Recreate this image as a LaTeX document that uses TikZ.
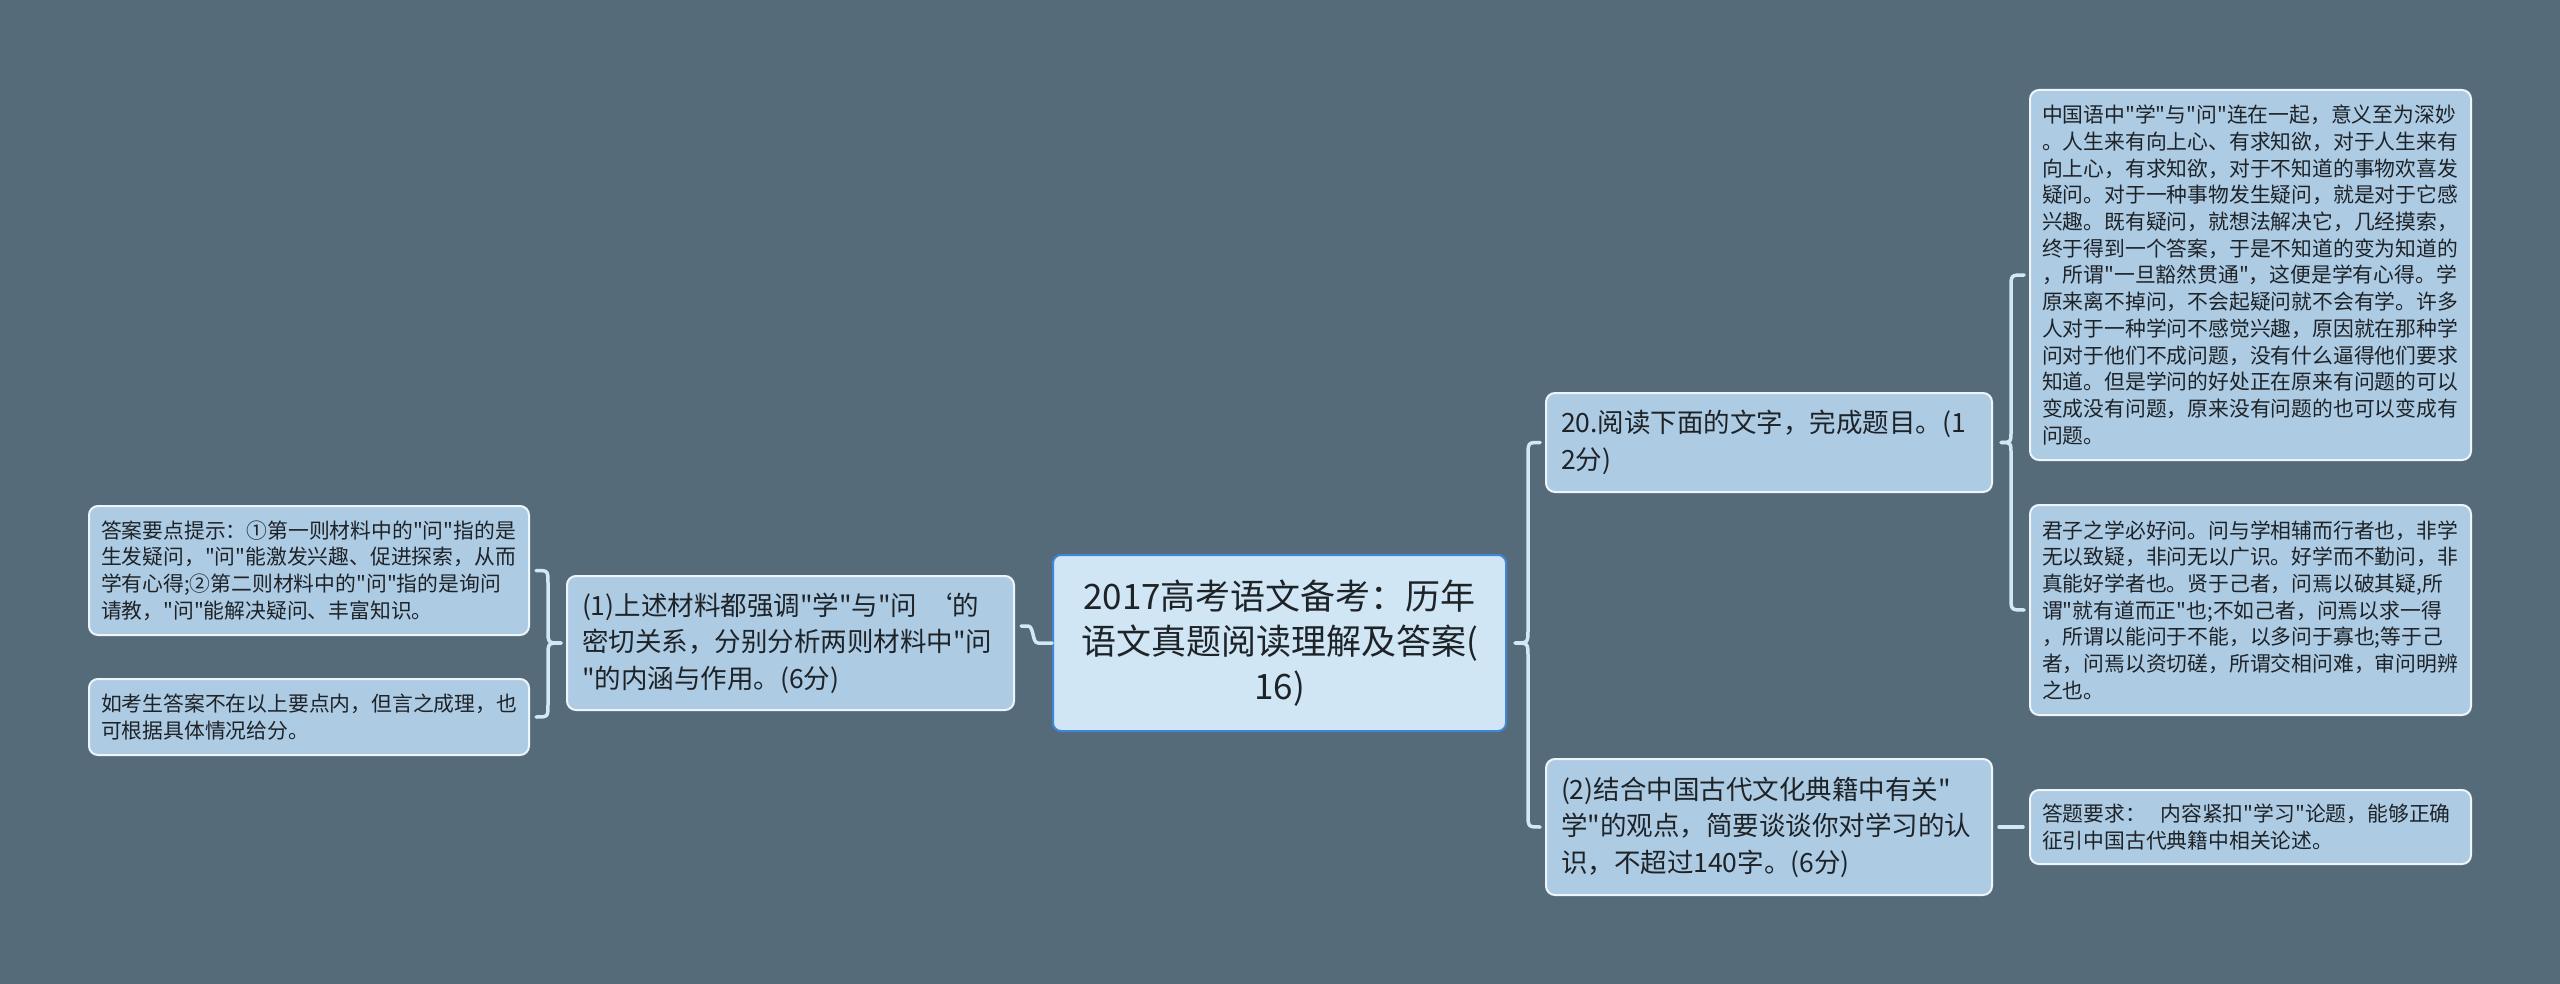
\documentclass[tikz,border=0pt]{standalone}
\usepackage{fontspec}
\newfontfamily\cjkfont{Noto Sans CJK SC}
\definecolor{bg}{HTML}{566B7A}
\definecolor{boxfill}{HTML}{ADCBE3}
\definecolor{boxline}{HTML}{EEF5FA}
\definecolor{rootfill}{HTML}{D0E6F4}
\definecolor{rootline}{HTML}{3F86D6}
\definecolor{linec}{HTML}{D3E8F5}
\definecolor{txt}{HTML}{1E2328}
\begin{document}
\begin{tikzpicture}[x=1pt,y=-1pt,
 conn/.style={draw=linec, line width=3.5pt, line cap=round, line join=round},
 box/.style={draw=boxline, line width=2pt, fill=boxfill, rounded corners=9pt, text=txt, align=left, inner ysep=0pt, anchor=center},
 big/.style={box, font=\cjkfont\fontsize{26.5}{36.5}\selectfont, inner xsep=15pt},
 small/.style={box, font=\cjkfont\fontsize{20.8}{26.7}\selectfont, inner xsep=12pt},
 rootbox/.style={draw=rootline, line width=2pt, fill=rootfill, rounded corners=8pt, text=txt, align=center, font=\cjkfont\fontsize{35}{45}\selectfont, inner sep=0pt, anchor=center}]
\fill[bg] (0,0) rectangle (2560,984);
\useasboundingbox (0,0) rectangle (2560,984);

\node[rootbox, minimum width=453pt, minimum height=176pt, text width=430pt] (root) at (1279.5,643)
 {2017高考语文备考：历年\\语文真题阅读理解及答案(\\16)};

\node[big, minimum width=447pt, minimum height=134pt, text width=417pt] (n1) at (790.5,643)
 {(1)上述材料都强调"学"与"问~‘的\\密切关系，分别分析两则材料中"问\\"的内涵与作用。(6分)};

\node[big, minimum width=446pt, minimum height=99pt, text width=416pt] (q20) at (1769,442.5)
 {20.阅读下面的文字，完成题目。(1\\2分)};

\node[big, minimum width=446pt, minimum height=136pt, text width=416pt] (q2) at (1769,827)
 {(2)结合中国古代文化典籍中有关"\\学"的观点，简要谈谈你对学习的认\\识，不超过140字。(6分)};

\node[small, minimum width=441pt, minimum height=370pt, text width=417pt] (t1) at (2250.5,275)
 {中国语中"学"与"问"连在一起，意义至为深妙\\
。人生来有向上心、有求知欲，对于人生来有\\
向上心，有求知欲，对于不知道的事物欢喜发\\
疑问。对于一种事物发生疑问，就是对于它感\\
兴趣。既有疑问，就想法解决它，几经摸索，\\
终于得到一个答案，于是不知道的变为知道的\\
，所谓"一旦豁然贯通"，这便是学有心得。学\\
原来离不掉问，不会起疑问就不会有学。许多\\
人对于一种学问不感觉兴趣，原因就在那种学\\
问对于他们不成问题，没有什么逼得他们要求\\
知道。但是学问的好处正在原来有问题的可以\\
变成没有问题，原来没有问题的也可以变成有\\
问题。};

\node[small, minimum width=441pt, minimum height=210pt, text width=417pt] (t2) at (2250.5,610)
 {君子之学必好问。问与学相辅而行者也，非学\\
无以致疑，非问无以广识。好学而不勤问，非\\
真能好学者也。贤于己者，问焉以破其疑,所\\
谓"就有道而正"也;不如己者，问焉以求一得\\
，所谓以能问于不能，以多问于寡也;等于己\\
者，问焉以资切磋，所谓交相问难，审问明辨\\
之也。};

\node[small, minimum width=441pt, minimum height=74pt, text width=417pt] (t3) at (2250.5,827)
 {答题要求：\hspace{0.7em}内容紧扣"学习"论题，能够正确\\征引中国古代典籍中相关论述。};

\node[small, minimum width=440pt, minimum height=129pt, text width=416pt] (la) at (309,570.5)
 {答案要点提示：①第一则材料中的"问"指的是\\
生发疑问，"问"能激发兴趣、促进探索，从而\\
学有心得;②第二则材料中的"问"指的是询问\\
请教，"问"能解决疑问、丰富知识。};

\node[small, minimum width=440pt, minimum height=76pt, text width=416pt] (lb) at (309,717)
 {如考生答案不在以上要点内，但言之成理，也\\可根据具体情况给分。};

% root -> (1)
\draw[conn] (root.west) -- (1038,643) .. controls (1032,643) and (1034,626) .. (1028,626) -- ([xshift=6pt,yshift=17pt]n1.east);

% root -> right children
\draw[conn] ([xshift=8pt]root.east) .. controls (1528,643) .. (1528,629) -- (1528,456.5) .. controls (1528,442.5) .. ([xshift=-5pt]q20.west);
\draw[conn] ([xshift=8pt]root.east) .. controls (1528,643) .. (1528,657) -- (1528,813) .. controls (1528,827) .. ([xshift=-5pt]q2.west);

% q20 -> texts
\draw[conn] ([xshift=8pt]q20.east) .. controls (2011,442.5) .. (2011,430) -- (2011,288) .. controls (2011,275) .. ([xshift=-5pt]t1.west);
\draw[conn] ([xshift=8pt]q20.east) .. controls (2011,442.5) .. (2011,455) -- (2011,597) .. controls (2011,610) .. ([xshift=-5pt]t2.west);

% q2 -> t3
\draw[conn] ([xshift=6pt]q2.east) -- ([xshift=-6pt]t3.west);

% (1) -> left
\draw[conn] ([xshift=-5pt]n1.west) .. controls (548,643) .. (548,630) -- (548,583.5) .. controls (548,570.5) .. ([xshift=6pt]la.east);
\draw[conn] ([xshift=-5pt]n1.west) .. controls (548,643) .. (548,656) -- (548,704) .. controls (548,717) .. ([xshift=6pt]lb.east);
\end{tikzpicture}
\end{document}
